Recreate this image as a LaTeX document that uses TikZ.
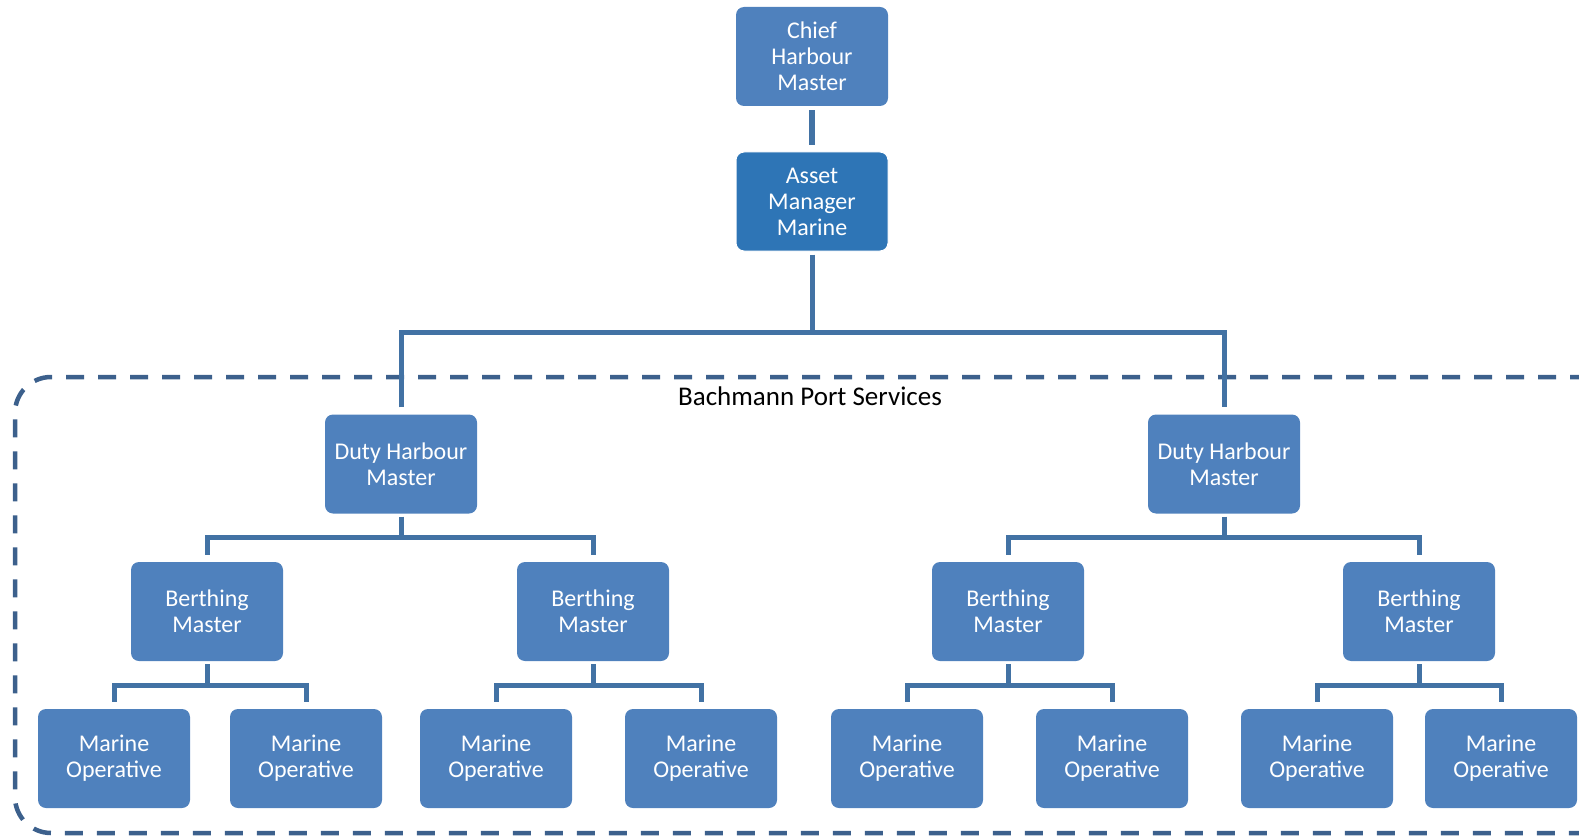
\documentclass[tikz,border=0pt]{standalone}
\usepackage{fontspec}
\setmainfont{Carlito}
\definecolor{boxblue}{RGB}{79,129,189}
\definecolor{darkbox}{RGB}{46,117,182}
\definecolor{linkblue}{RGB}{66,114,164}
\definecolor{framecol}{RGB}{60,96,140}
\begin{document}
\begin{tikzpicture}[x=1pt,y=-1pt,
  orgbox/.style={draw=none,fill=boxblue,rounded corners=8pt,minimum width=152pt,minimum height=99pt,inner sep=0pt,align=center,text=white,font=\fontsize{24}{26}\selectfont},
  conn/.style={draw=linkblue,line width=5pt},
  frame/.style={draw=framecol,line width=4.5pt,dash pattern=on 18pt off 14pt,rounded corners=36pt}]
\useasboundingbox (0,0) rectangle (1579,837);
% frame
\draw[frame] (1620,377) -- (15,377) -- (15,833) -- (1620,833);
\node[font=\fontsize{27}{30}\selectfont,anchor=base] (bps) at (810,405) {Bachmann Port Services};
% boxes
\node[orgbox] (chief) at (812,56.5) {Chief\\Harbour\\Master};
\node[orgbox,fill=darkbox,draw=white,line width=1pt] (asset) at (812,201.5) {Asset\\Manager\\Marine};
\node[orgbox] (dhmL) at (401,464) {Duty Harbour\\Master};
\node[orgbox] (dhmR) at (1224,464) {Duty Harbour\\Master};
\node[orgbox] (bm1) at (207,611.5) {Berthing\\Master};
\node[orgbox] (bm2) at (593,611.5) {Berthing\\Master};
\node[orgbox] (bm3) at (1008,611.5) {Berthing\\Master};
\node[orgbox] (bm4) at (1419,611.5) {Berthing\\Master};
\node[orgbox] (mo1) at (114,758.5) {Marine\\Operative};
\node[orgbox] (mo2) at (306,758.5) {Marine\\Operative};
\node[orgbox] (mo3) at (496,758.5) {Marine\\Operative};
\node[orgbox] (mo4) at (701,758.5) {Marine\\Operative};
\node[orgbox] (mo5) at (907,758.5) {Marine\\Operative};
\node[orgbox] (mo6) at (1112,758.5) {Marine\\Operative};
\node[orgbox] (mo7) at (1317,758.5) {Marine\\Operative};
\node[orgbox] (mo8) at (1501,758.5) {Marine\\Operative};
% connectors
\draw[conn,line width=6pt,shorten <=4pt,shorten >=6pt] (chief.south) -- (asset.north);
\draw[conn,shorten <=3pt] (asset.south) -- ++(0,81) coordinate (busA);
\draw[conn,shorten <=7pt,shorten >=7pt] (dhmL.north) |- (busA) -| (dhmR.north);
\foreach \p/\a/\b in {dhmL/bm1/bm2,dhmR/bm3/bm4,bm1/mo1/mo2,bm2/mo3/mo4,bm3/mo5/mo6,bm4/mo7/mo8}{
  \draw[conn,shorten <=3pt] (\p.south) -- ++(0,24) coordinate (bus\p);
  \draw[conn,shorten <=7pt,shorten >=7pt] (\a.north) |- (bus\p) -| (\b.north);
}
\end{tikzpicture}
\end{document}
